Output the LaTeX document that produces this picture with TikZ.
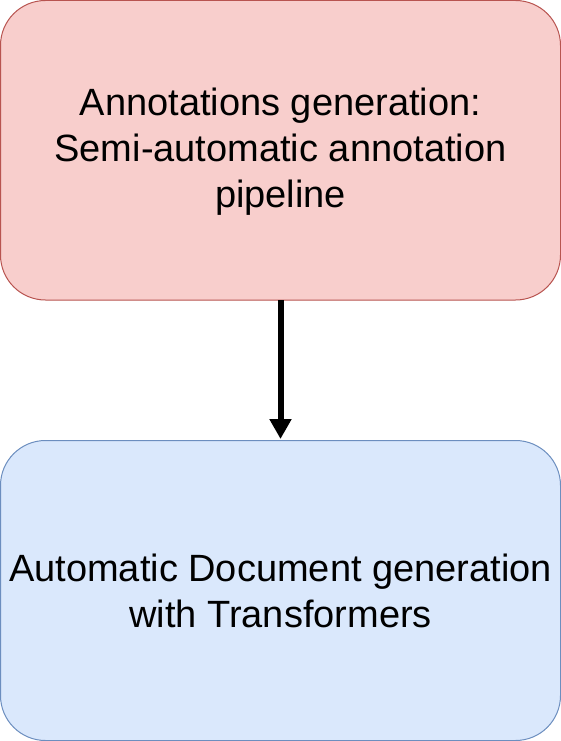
\documentclass[tikz,border=0pt]{standalone}
\usepackage{fontspec}
\setmainfont{Liberation Sans}
\usetikzlibrary{arrows.meta}
\definecolor{redfill}{HTML}{F8CECC}
\definecolor{redline}{HTML}{B85450}
\definecolor{bluefill}{HTML}{DAE8FC}
\definecolor{blueline}{HTML}{6C8EBF}
\begin{document}
\begin{tikzpicture}[x=1pt,y=1pt,
  boxstyle/.style={rounded corners=45pt, line width=1pt},
  boxtext/.style={align=center, font=\fontsize{38}{46}\selectfont, inner sep=0pt},
  connector/.style={line width=6pt, -{Triangle[length=20pt,width=21pt]}}]
\useasboundingbox (0,0) rectangle (561,-741);
\draw[boxstyle, fill=redfill, draw=redline] (0.5,-0.5) rectangle (560.5,-300);
\draw[boxstyle, fill=bluefill, draw=blueline] (0.5,-440.5) rectangle (560.5,-740.5);
\node[boxtext] (top) at (280.5,-152) {Annotations generation:\\Semi-automatic annotation\\pipeline};
\node[boxtext] (bot) at (280.5,-591) {Automatic Document generation\\with Transformers};
\coordinate (topedge) at (280.5,-300);
\coordinate (botedge) at (280.5,-439);
\draw[connector] (topedge) -- (botedge);
\end{tikzpicture}
\end{document}
